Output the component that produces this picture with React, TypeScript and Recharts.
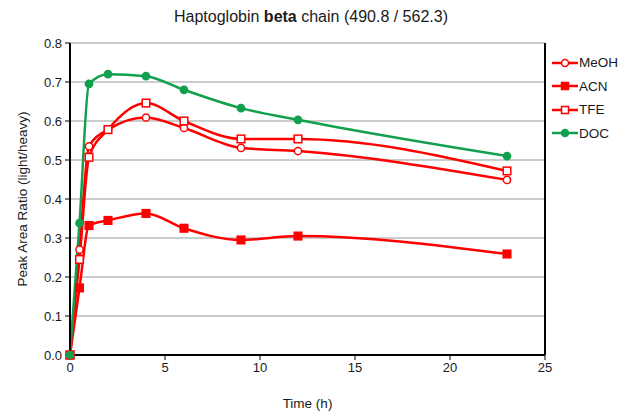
import React from 'react';
import { LineChart, Line, XAxis, YAxis, CartesianGrid, ReferenceLine } from 'recharts';

const times = [0, 0.5, 1, 2, 4, 6, 9, 12, 23];
const meoh = [0, 0.27, 0.535, 0.578, 0.609, 0.582, 0.531, 0.523, 0.449];
const acn = [0, 0.172, 0.332, 0.345, 0.363, 0.325, 0.295, 0.305, 0.259];
const tfe = [0, 0.245, 0.507, 0.578, 0.646, 0.6, 0.554, 0.554, 0.472];
const doc = [0, 0.338, 0.695, 0.72, 0.715, 0.68, 0.633, 0.603, 0.51];
const xTicks = [0, 5, 10, 15, 20, 25];
const yTicks = [0, 0.1, 0.2, 0.3, 0.4, 0.5, 0.6, 0.7, 0.8];

const data = times.map((t, i) => ({ t, MeOH: meoh[i], ACN: acn[i], TFE: tfe[i], DOC: doc[i] }));

const RED = '#ff0000';
const GREEN = '#12a04f';
const FONT = '"Liberation Sans", Arial, sans-serif';
const TXT = '#1a1a1a';

const series = [
  { key: 'MeOH', color: RED, shape: 'circle', filled: false },
  { key: 'ACN', color: RED, shape: 'square', filled: true },
  { key: 'TFE', color: RED, shape: 'square', filled: false },
  { key: 'DOC', color: GREEN, shape: 'circle', filled: true },
];

const makeDot = (color: string, shape: string, filled: boolean) => (props: any) => {
  const { cx, cy, index } = props;
  if (cx == null || cy == null) return <g key={index} />;
  const fill = filled ? color : '#fff';
  if (shape === 'circle') {
    return <circle key={index} cx={cx} cy={cy} r={3.6} fill={fill} stroke={color} strokeWidth={1.5} />;
  }
  return <rect key={index} x={cx - 3.8} y={cy - 3.8} width={7.6} height={7.6} fill={fill} stroke={color} strokeWidth={1.5} />;
};

const LegendBox = () => (
  <div style={{ position: 'absolute', left: 552, top: 51, fontFamily: FONT, fontSize: 13.5, color: TXT }}>
    {series.map((s) => (
      <div key={s.key} style={{ display: 'flex', alignItems: 'center', height: 23.5 }}>
        <svg width={26} height={12} style={{ marginRight: 1 }}>
          <line x1={0} y1={6} x2={26} y2={6} stroke={s.color} strokeWidth={2.5} />
          {s.shape === 'circle' ? (
            <circle cx={13} cy={6} r={3.5} fill={s.filled ? s.color : '#fff'} stroke={s.color} strokeWidth={1.5} />
          ) : (
            <rect x={9.5} y={2.5} width={7} height={7} fill={s.filled ? s.color : '#fff'} stroke={s.color} strokeWidth={1.5} />
          )}
        </svg>
        <span>{s.key}</span>
      </div>
    ))}
  </div>
);

export default function App() {
  return (
    <div style={{ position: 'absolute', left: 0, top: 0, width: 626, height: 414, background: '#fff' }}>
      <div
        style={{
          position: 'absolute',
          left: 0,
          top: 8,
          width: 626,
          textAlign: 'center',
          fontFamily: FONT,
          fontSize: 16,
          color: TXT,
          transform: 'translateX(-2px)',
        }}
      >
        Haptoglobin <b>beta</b> chain (490.8 / 562.3)
      </div>
      <LineChart width={626} height={414} data={data} margin={{ top: 43, right: 81, bottom: 0, left: 16 }}>
        <CartesianGrid horizontal vertical={false} stroke="#999" strokeWidth={1} />
        <XAxis
          dataKey="t"
          type="number"
          domain={[0, 25]}
          ticks={xTicks}
          height={59}
          axisLine={{ stroke: '#000', strokeWidth: 2 }}
          tickLine={{ stroke: '#000', strokeWidth: 1 }}
          tickSize={5}
          tick={{ fill: TXT, fontSize: 13, fontFamily: FONT }}
          tickMargin={3}
          label={{ value: 'Time (h)', position: 'insideBottom', offset: 6, fill: TXT, fontSize: 13.5, fontFamily: FONT }}
        />
        <YAxis
          type="number"
          domain={[0, 0.8]}
          ticks={yTicks}
          width={54}
          tickFormatter={(v: number) => v.toFixed(1)}
          axisLine={{ stroke: '#000', strokeWidth: 2 }}
          tickLine={{ stroke: '#000', strokeWidth: 1 }}
          tickSize={5}
          tickMargin={3}
          tick={{ fill: TXT, fontSize: 13, fontFamily: FONT }}
          label={{
            value: 'Peak Area Ratio (light/heavy)',
            angle: -90,
            position: 'insideLeft',
            offset: 6,
            fill: TXT,
            fontSize: 13.5,
            fontFamily: FONT,
            style: { textAnchor: 'middle' },
          }}
        />
        <ReferenceLine x={25} stroke="#000" strokeWidth={2} />
        {series.map((s) => (
          <Line
            key={s.key}
            dataKey={s.key}
            type="monotone"
            stroke={s.color}
            strokeWidth={2.5}
            dot={makeDot(s.color, s.shape, s.filled)}
            activeDot={false}
            isAnimationActive={false}
          />
        ))}
      </LineChart>
      <LegendBox />
    </div>
  );
}
